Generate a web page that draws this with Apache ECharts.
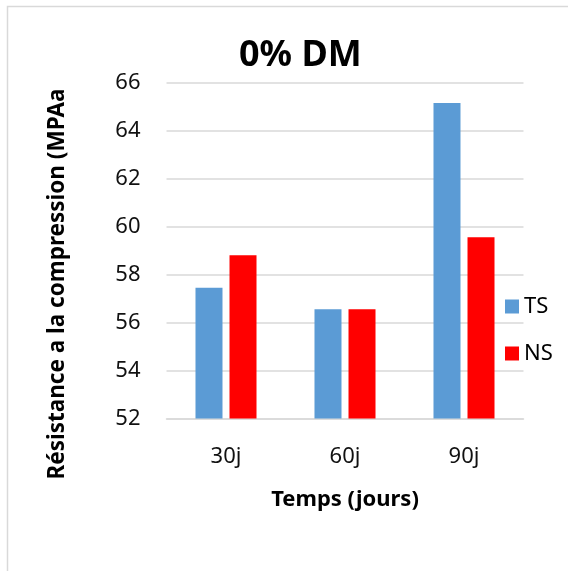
<!DOCTYPE html>
<html>
<head>
<meta charset="utf-8">
<script src="https://cdn.jsdelivr.net/npm/echarts@6/dist/echarts.min.js"></script>
<style>
  html, body { margin: 0; padding: 0; background: #fff; }
  #chart { width: 568px; height: 571px; }
</style>
</head>
<body>
<div id="chart"></div>
<script>
// Compressive strength by curing age, 0% DM mix
const categories = ['30j', '60j', '90j'];
const tsValues = [57.45, 56.55, 65.15];
const nsValues = [58.8, 56.55, 59.55];
const yTicks = [52, 54, 56, 58, 60, 62, 64, 66];

const FONT = '"Noto Sans", "Open Sans", sans-serif';

const chart = echarts.init(document.getElementById('chart'), null, { renderer: 'canvas' });

chart.setOption({
  backgroundColor: '#ffffff',
  animation: false,
  title: {
    text: '0% DM',
    left: 234,
    top: 33,
    textStyle: { fontFamily: FONT, fontSize: 36, fontWeight: 'bold', color: '#000' }
  },
  legend: {
    orient: 'vertical',
    left: 500,
    top: 289,
    itemWidth: 14,
    itemHeight: 14,
    itemGap: 22,
    icon: 'rect',
    textStyle: { fontFamily: FONT, fontSize: 22, color: '#000', lineHeight: 25 },
    data: ['TS', 'NS']
  },
  grid: { left: 166.5, right: 44.5, top: 82.5, bottom: 152.5 },
  xAxis: {
    type: 'category',
    data: categories,
    name: 'Temps (jours)',
    nameLocation: 'middle',
    nameGap: 70,
    nameTextStyle: { fontFamily: FONT, fontSize: 22, fontWeight: 'bold', color: '#000' },
    axisLine: { show: true, lineStyle: { color: '#d9d9d9', width: 1.5 } },
    axisTick: { show: false },
    axisLabel: { fontFamily: FONT, fontSize: 22, color: '#111', margin: 27 }
  },
  yAxis: {
    type: 'value',
    min: yTicks[0],
    max: yTicks[yTicks.length - 1],
    interval: 2,
    axisLine: { show: false },
    axisTick: { show: false },
    axisLabel: { fontFamily: FONT, fontSize: 22, color: '#111', margin: 26 },
    splitLine: { lineStyle: { color: '#d9d9d9', width: 1.5 } }
  },
  series: [
    {
      name: 'TS',
      type: 'bar',
      data: tsValues,
      barWidth: 27,
      barGap: '26%',
      itemStyle: { color: '#5B9BD5' }
    },
    {
      name: 'NS',
      type: 'bar',
      data: nsValues,
      barWidth: 27,
      barGap: '26%',
      itemStyle: { color: '#FF0000' }
    }
  ],
  graphic: [
    {
      type: 'rect',
      shape: { x: 7.5, y: 6.5, width: 700, height: 700 },
      style: { fill: 'none', stroke: '#d9d9d9', lineWidth: 1.5 },
      silent: true
    },
    {
      type: 'text',
      x: 58,
      y: 284,
      rotation: Math.PI / 2,
      style: {
        text: 'Résistance a la compression (MPAa',
        font: 'bold 22.5px ' + FONT,
        fill: '#000',
        textAlign: 'center',
        textVerticalAlign: 'middle'
      }
    }
  ]
});
</script>
</body>
</html>
